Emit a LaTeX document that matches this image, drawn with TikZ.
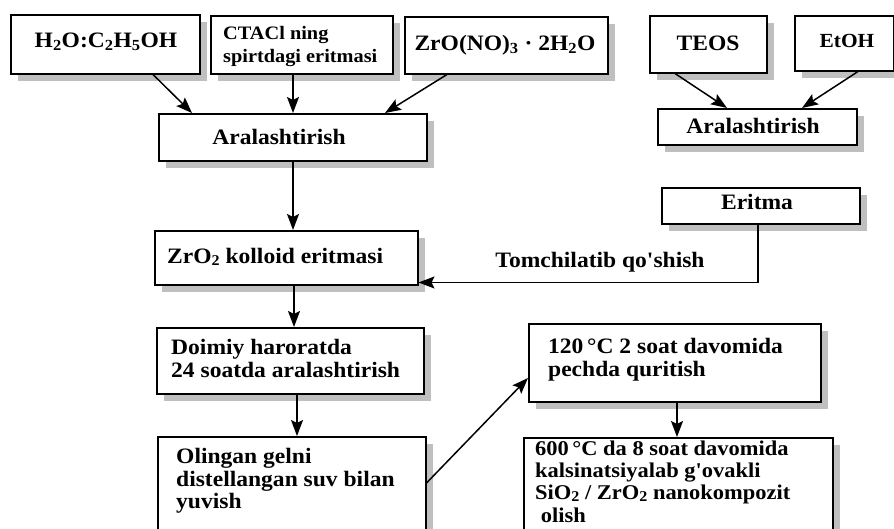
\documentclass[tikz,border=0pt]{standalone}
\usepackage{fontspec}
\setmainfont{Liberation Serif}[FakeStretch=1.07, Ligatures=TeXOff]
\usetikzlibrary{shadows,arrows.meta}
\newcommand{\lsub}[1]{\raisebox{-0.12em}{\fontsize{15}{15}\selectfont #1}}
\begin{document}
\begin{tikzpicture}[x=1pt,y=-1pt,
  every node/.style={font=\fontsize{22}{22}\selectfont\bfseries},
  box/.style={draw=black, line width=1.5pt, fill=white, anchor=north west, inner sep=0pt,
    drop shadow={shadow xshift=7pt, shadow yshift=-7pt, fill=black!25, opacity=1}},
  txt/.style={anchor=base west, inner sep=0pt},
  ctxt/.style={anchor=base, inner sep=0pt},
  small/.style={font=\fontsize{21}{21}\selectfont\bfseries},
  arr/.style={line width=1.5pt, -{Stealth[length=16pt,width=12pt,inset=3pt]}}]
\useasboundingbox (0,0) rectangle (894,528);
\clip (0,0) rectangle (894,528);
% boxes
\node[box, minimum width=189pt, minimum height=59pt] (b1) at (10,14) {};
\node[box, minimum width=182pt, minimum height=58pt] (b2) at (210,15) {};
\node[box, minimum width=203pt, minimum height=57pt] (b3) at (404,16) {};
\node[box, minimum width=268pt, minimum height=47pt] (mix1) at (158,113) {};
\node[box, minimum width=117pt, minimum height=57pt] (teos) at (649,15) {};
\node[box, minimum width=99pt, minimum height=55pt] (etoh) at (794,15) {};
\node[box, minimum width=199pt, minimum height=36pt] (mix2) at (657,108) {};
\node[box, minimum width=198pt, minimum height=36pt] (eritma) at (661,187) {};
\node[box, minimum width=263pt, minimum height=54pt] (zro2) at (154,230) {};
\node[box, minimum width=267pt, minimum height=66pt] (doim) at (156,327) {};
\node[box, minimum width=268pt, minimum height=124pt] (olin) at (157,436) {};
\node[box, minimum width=292pt, minimum height=78pt] (c120) at (528,323) {};
\node[box, minimum width=309pt, minimum height=123pt] (c600) at (523,437) {};
% texts
\node[ctxt] (t1) at (106,47) {H\textsubscript{2}O:C\textsubscript{2}H\textsubscript{5}OH};
\node[txt, font=\fontsize{19}{19}\selectfont\bfseries] (t2a) at (223,39) {CTACl ning};
\node[txt, font=\fontsize{19}{19}\selectfont\bfseries] (t2b) at (223,62) {spirtdagi eritmasi};
\node[ctxt] (t3) at (505,50) {ZrO(NO)\textsubscript{3} · 2H\textsubscript{2}O};
\node[ctxt] (t4) at (279,144) {Aralashtirish};
\node[ctxt] (t5) at (708,50) {TEOS};
\node[ctxt, font=\fontsize{20}{20}\selectfont\bfseries] (t6) at (847,47) {EtOH};
\node[ctxt] (t7) at (753,133) {Aralashtirish};
\node[ctxt] (t8) at (757,209) {Eritma};
\node[ctxt] (t9) at (600,267) {Tomchilatib qo'shish};
\node[txt] (t10) at (167,263) {ZrO\lsub{2} kolloid eritmasi};
\node[txt] (t11a) at (171,354) {Doimiy haroratda};
\node[txt] (t11b) at (171,377) {24 soatda aralashtirish};
\node[txt] (t12a) at (176,463) {Olingan gelni};
\node[txt] (t12b) at (176,486) {distellangan suv bilan};
\node[txt] (t12c) at (176,508) {yuvish};
\node[txt] (t13a) at (548,353) {120\,°C 2 soat davomida};
\node[txt] (t13b) at (548,376) {pechda quritish};
\node[txt, small] (t14a) at (535,455) {600\,°C da 8 soat davomida};
\node[txt, small] (t14b) at (535,477) {kalsinatsiyalab g'ovakli};
\node[txt, small] (t14c) at (535,499) {SiO\lsub{2} / ZrO\lsub{2} nanokompozit};
\node[txt, small] (t14d) at (535,522) {\ olish};
% connectors
\draw[arr] ([xshift=143pt]b1.south west) -- ([xshift=34pt]mix1.north west);
\draw[arr] ([xshift=83pt]b2.south west) -- ([xshift=135pt]mix1.north west);
\draw[arr] ([xshift=43pt]b3.south west) -- ([xshift=227pt]mix1.north west);
\draw[arr] ([xshift=135pt]mix1.south west) -- ([xshift=139pt]zro2.north west);
\draw[arr] ([xshift=26pt]teos.south west) -- ([xshift=70pt]mix2.north west);
\draw[arr] ([xshift=64pt]etoh.south west) -- ([xshift=145pt]mix2.north west);
\draw[arr] ([xshift=97pt]eritma.south west) |- ([yshift=3pt]zro2.south east);
\draw[arr] ([xshift=140pt]zro2.south west) -- ([xshift=138pt]doim.north west);
\draw[arr] ([xshift=141pt]doim.south west) -- ([xshift=140pt]olin.north west);
\draw[arr] ([yshift=-47pt]olin.north east) -- ([yshift=-55pt]c120.north west);
\draw[arr] ([xshift=149pt]c120.south west) -- ([xshift=154pt]c600.north west);
\end{tikzpicture}
\end{document}
